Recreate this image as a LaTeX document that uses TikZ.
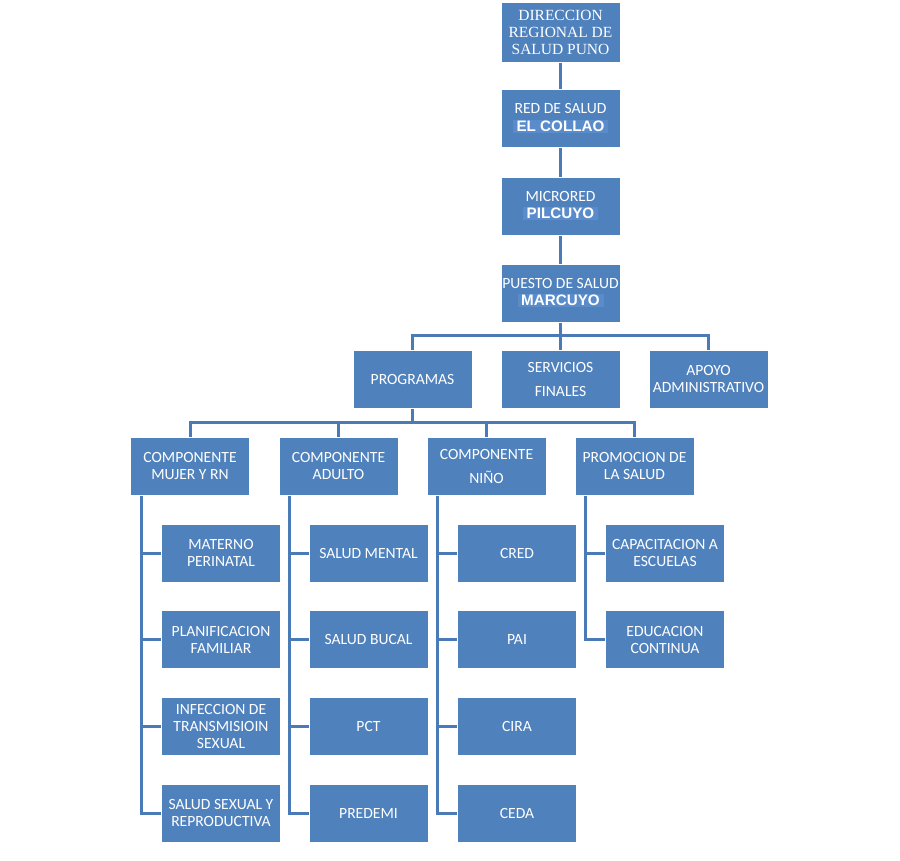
\documentclass[tikz,border=0pt]{standalone}
\usepackage{fontspec}
\usetikzlibrary{backgrounds}
\setmainfont{Carlito}
\newfontfamily\serifx{Liberation Serif}
\newfontfamily\sansx{Liberation Sans}
\definecolor{boxblue}{HTML}{4F81BD}
\definecolor{hlblue}{HTML}{5A8CCB}
\definecolor{lineblue}{HTML}{4A7BB7}
\tikzset{
  orgbox/.style={rectangle, fill=boxblue, draw=white, line width=1pt,
    minimum width=119pt, minimum height=58pt, inner sep=0pt, text=white,
    align=center, font=\fontsize{15.6}{17}\selectfont},
  conn/.style={draw=lineblue, line width=3pt},
}
\newcommand{\hl}[1]{{\setlength{\fboxsep}{1.2pt}\colorbox{hlblue}{\sansx\bfseries\fontsize{15.2}{17}\selectfont\,#1\,}}}
\begin{document}
\begin{tikzpicture}[x=1pt,y=-1pt]
\useasboundingbox (0,0) rectangle (900,860);
% top chain
\node[orgbox, minimum height=60pt, font=\serifx\fontsize{15.5}{17}\selectfont] (dir) at (560.5,32) {DIRECCION\\REGIONAL DE\\SALUD PUNO};
\node[orgbox, font=\fontsize{15.6}{18}\selectfont] (red) at (560.5,118.5) {RED DE SALUD\\\hl{EL COLLAO}};
\node[orgbox, font=\fontsize{15.6}{17}\selectfont] (micro) at (560.5,206) {MICRORED\\\hl{PILCUYO}};
\node[orgbox, font=\fontsize{15.6}{17}\selectfont] (puesto) at (560.5,293) {PUESTO DE SALUD\\\hl{MARCUYO}};
% level 2
\node[orgbox] (prog) at (412.5,379) {PROGRAMAS};
\node[orgbox] (serv) at (560.5,379) {SERVICIOS\\[7pt]FINALES};
\node[orgbox] (apoyo) at (708.5,379) {APOYO\\ADMINISTRATIVO};
% level 3
\node[orgbox] (mujer) at (190,466) {COMPONENTE\\MUJER Y RN};
\node[orgbox] (adulto) at (338.5,466) {COMPONENTE\\ADULTO};
\node[orgbox] (nino) at (486.5,466) {COMPONENTE\\[7pt]NIÑO};
\node[orgbox] (promo) at (634.5,466) {PROMOCION DE\\LA SALUD};
% children
\node[orgbox] (m1) at (221,553) {MATERNO\\PERINATAL};
\node[orgbox] (m2) at (221,639.5) {PLANIFICACION\\FAMILIAR};
\node[orgbox] (m3) at (221,726) {INFECCION DE\\TRANSMISIOIN\\SEXUAL};
\node[orgbox] (m4) at (221,813) {SALUD SEXUAL Y\\REPRODUCTIVA};
\node[orgbox] (a1) at (368.5,553) {SALUD MENTAL};
\node[orgbox] (a2) at (368.5,639.5) {SALUD BUCAL};
\node[orgbox] (a3) at (368.5,726) {PCT};
\node[orgbox] (a4) at (368.5,813) {PREDEMI};
\node[orgbox] (n1) at (517,553) {CRED};
\node[orgbox] (n2) at (517,639.5) {PAI};
\node[orgbox] (n3) at (517,726) {CIRA};
\node[orgbox] (n4) at (517,813) {CEDA};
\node[orgbox] (p1) at (665,553) {CAPACITACION A\\ESCUELAS};
\node[orgbox] (p2) at (665,639.5) {EDUCACION\\CONTINUA};
% connectors
\begin{scope}[on background layer]
\fill[white] (0,0) rectangle (900,860);
\draw[conn] (dir.south) -- (red.north);
\draw[conn] (red.south) -- (micro.north);
\draw[conn] (micro.south) -- (puesto.north);
\draw[conn] (puesto.south) -- (serv.north);
\draw[conn] (puesto.south) -- +(0,13) -| (prog.north);
\draw[conn] (puesto.south) -- +(0,13) -| (apoyo.north);
\draw[conn] (prog.south) -- +(0,14) -| (mujer.north);
\draw[conn] (prog.south) -- +(0,14) -| (adulto.north);
\draw[conn] (prog.south) -- +(0,14) -| (nino.north);
\draw[conn] (prog.south) -- +(0,14) -| (promo.north);
\foreach \p/\c in {mujer/m1,mujer/m2,mujer/m3,mujer/m4,adulto/a1,adulto/a2,adulto/a3,adulto/a4,nino/n1,nino/n2,nino/n3,nino/n4,promo/p1,promo/p2}{
  \draw[conn] ([xshift=11pt]\p.south west) |- (\c.west);
}
\end{scope}
\end{tikzpicture}
\end{document}
